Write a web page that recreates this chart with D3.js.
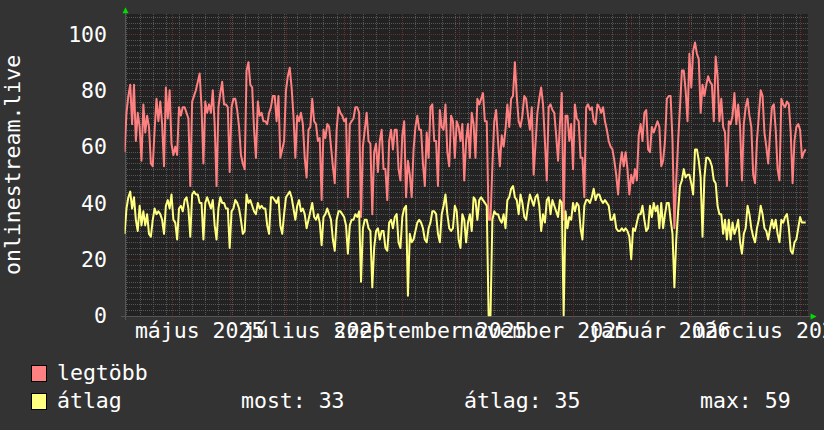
<!DOCTYPE html>
<html><head><meta charset="utf-8">
<script src="https://cdn.jsdelivr.net/npm/d3@7"></script>
<style>html,body{margin:0;padding:0;background:#333333;} svg{display:block}</style>
</head><body>
<svg id="c" width="824" height="430"></svg>
<script>
// ---------------- DATA ----------------
const titleText = "onlinestream.live";
const startDate = "2025-04-06";   // first daily sample
const endDate = "2026-04-05";     // right edge of the time axis
const seriesNames = ["legtöbb", "átlag"];
const seriesColors = ["#ff8080", "#ffff80"];
// daily "legtöbb" (max) values
const maxValues = [
 58,72,78,82,68,82,62,72,67,55, 75,65,71,67,54,53,66,77,69,76,
 68,53,81,70,80,61,57,60,57,74, 71,74,74,72,70,46,76,78,80,83,
 86,74,54,76,72,75,72,80,68,46, 74,79,83,75,75,74,51,74,77,77,
 73,67,57,54,52,87,90,82,81,66, 56,76,71,72,69,69,68,72,74,78,
 78,69,78,56,59,62,80,85,88,81, 71,56,71,69,72,68,56,49,66,67,
 77,69,68,62,63,41,66,63,68,67, 60,53,47,66,74,72,71,69,70,42,
 68,69,70,74,74,72,
 35,60,66,72,62,61,36,58,61,51, 62,66,52,52,41,62,66,59,66,66,
 52,48,64,69,42,55,50,42,59,67, 71,66,66,54,46,65,56,74,75,62,
 62,46,73,67,66,75,58,53,71,69, 56,69,67,62,68,48,62,68,56,72,
 68,56,77,75,77,79,69,69,34,34, 53,69,73,62,53,64,60,66,75,67,
 77,78,90,78,69,67,71,78,77,71, 66,74,50,61,72,77,81,75,62,48,
 74,75,73,72,64,55,68,79,34,71, 71,62,68,52,75,70,69,56,56,42,
 74,75,73,74,69,68,75,74,
 72,74,69,66,62,60,59,55,50,43, 53,58,53,58,52,43,50,47,52,48,
 64,68,62,72,73,59,58,67,65,67, 69,67,53,55,62,77,78,78,62,31,
 48,62,74,87,87,80,69,93,81,94, 97,93,91,72,82,78,82,85,83,82,
 69,92,85,69,77,67,65,46,69,68, 71,79,68,75,67,48,68,74,77,71,
 67,50,47,62,71,80,78,65,60,54, 65,74,75,66,52,48,77,75,74,76,
 75,65,47,62,67,68,66,56,58,59
];
// daily "átlag" (average) values
const avgValues = [
 29,38,42,44,38,42,34,30,39,32, 37,32,36,29,28,34,38,36,37,36,
 34,29,39,41,38,43,34,33,27,38, 39,37,41,42,38,28,43,44,43,43,
 40,40,27,40,42,40,38,41,32,27, 38,42,40,40,38,38,24,37,38,41,
 40,38,34,29,30,43,40,41,39,37, 36,40,38,39,38,38,32,29,42,42,
 41,40,42,32,29,36,42,43,44,42, 38,34,39,41,37,38,36,31,34,37,
 40,35,34,36,33,25,35,36,38,36, 34,27,23,34,37,37,36,35,32,22,
 32,34,34,36,35,37,
 12,31,34,34,31,30,10,24,30,31, 27,30,30,24,23,33,34,31,35,36,
 26,24,35,38,39,7,29,26,27,30, 33,34,33,31,27,26,31,33,37,37,
 36,29,26,36,39,43,36,31,30,31, 39,37,27,24,36,34,26,33,36,30,
 42,41,34,41,42,41,40,39,0,0, 34,37,36,36,34,33,36,31,41,42,
 45,46,42,41,36,43,40,35,34,39, 43,41,39,42,43,39,30,36,33,41,
 42,36,41,39,37,35,41,40,0,37, 31,35,34,40,37,40,39,31,27,39,
 41,41,40,42,45,41,43,43,
 41,40,41,40,39,34,34,36,31,30, 30,31,30,31,30,28,20,31,30,33,
 36,36,39,34,30,31,39,35,40,37, 39,31,40,31,36,40,40,34,29,10,
 27,37,46,48,52,49,50,50,47,43, 59,59,55,49,28,49,56,56,55,53,
 48,47,39,36,36,29,34,27,34,27, 33,29,31,34,26,22,29,31,39,36,
 31,28,26,31,34,39,36,31,30,27, 31,34,31,34,29,26,34,33,35,36,
 31,23,22,26,27,31,35,33,33,33
];
const yTicks = [0, 20, 40, 60, 80, 100];
const yMax = 107;
const xLabelMonths = ["2025-05-01","2025-07-01","2025-09-01","2025-11-01","2026-01-01","2026-03-01"];
const xTickLabels = ["május 2025","július 2025","szeptember 2025","november 2025","január 2026","március 2026"];
const legendStats = [["most", 33], ["átlag", 35], ["max", 59]];

// ---------------- LAYOUT ----------------
const W = 824, H = 430;
const L = 124.6, R = 807.6, T = 14.3, B = 315.5;
const FONT = "'DejaVu Sans Mono', monospace";
const FS = 21.5;
const svg = d3.select("#c");
svg.append("rect").attr("width", W).attr("height", H).attr("fill", "#333333");

const parse = d3.utcParse("%Y-%m-%d");
const t0 = parse(startDate), t1 = parse(endDate);
const x = d3.scaleUtc().domain([t0, t1]).range([L, R]);
const y = d3.scaleLinear().domain([0, yMax]).range([B, T]);
const px = v => Math.round(v) + 0.5;

svg.append("rect").attr("x", Math.round(L)).attr("y", Math.round(T))
  .attr("width", Math.round(R) - Math.round(L)).attr("height", Math.round(B) - Math.round(T))
  .attr("fill", "#222222");

const grid = svg.append("g").attr("shape-rendering", "crispEdges");
const minorCol = "#555555", majorCol = "#663030";
// minor horizontal
d3.range(2, yMax, 2).filter(v => v % 20 !== 0).forEach(v => {
  grid.append("line").attr("x1", L).attr("x2", R).attr("y1", px(y(v))).attr("y2", px(y(v)))
    .attr("stroke", minorCol).attr("stroke-width", 1).attr("stroke-dasharray", "1,1");
});
// minor vertical (weekly)
d3.utcMonday.range(t0, t1).forEach(d => {
  grid.append("line").attr("x1", px(x(d))).attr("x2", px(x(d))).attr("y1", T).attr("y2", B)
    .attr("stroke", minorCol).attr("stroke-width", 1).attr("stroke-dasharray", "1,1");
});
// major horizontal
yTicks.filter(v => v > 0).forEach(v => {
  grid.append("line").attr("x1", L - 2).attr("x2", R).attr("y1", px(y(v))).attr("y2", px(y(v)))
    .attr("stroke", majorCol).attr("stroke-width", 1).attr("stroke-dasharray", "1,1");
});
// major vertical (monthly)
d3.utcMonth.range(d3.utcMonth.ceil(t0), t1).forEach(d => {
  grid.append("line").attr("x1", px(x(d))).attr("x2", px(x(d))).attr("y1", T).attr("y2", B + 3)
    .attr("stroke", majorCol).attr("stroke-width", 1).attr("stroke-dasharray", "1,1");
});

// axes lines
grid.append("line").attr("x1", L - 4).attr("x2", R + 4).attr("y1", px(B)).attr("y2", px(B))
  .attr("stroke", "#555555");
grid.append("line").attr("x1", px(L)).attr("x2", px(L)).attr("y1", B + 4).attr("y2", T - 4)
  .attr("stroke", "#555555");
// arrows
const ax = px(L), ay = px(B);
svg.append("path").attr("d", `M${ax - 3},${T - 1}L${ax + 3},${T - 1}L${ax},${T - 7}Z`).attr("fill", "#00dd00");
svg.append("path").attr("d", `M${R + 3},${ay - 3}L${R + 3},${ay + 3}L${R + 9},${ay}Z`).attr("fill", "#00dd00");

// series
const clip = svg.append("clipPath").attr("id", "pc").append("rect")
  .attr("x", L).attr("y", T - 1).attr("width", R - L).attr("height", B - T + 2);
const line = d3.line().x(d => x(d.t)).y(d => y(d.v)).curve(d3.curveLinear);
const mk = arr => arr.map((v, i) => ({ t: d3.utcDay.offset(t0, i), v }));
[maxValues, avgValues].forEach((arr, k) => {
  svg.append("path").attr("clip-path", "url(#pc)").datum(mk(arr)).attr("d", line)
    .attr("fill", "none").attr("stroke", seriesColors[k]).attr("stroke-width", 2)
    .attr("stroke-linejoin", "round");
});

// y labels
const txt = svg.append("g").attr("font-family", FONT).attr("font-size", FS).attr("fill", "#ffffff");
yTicks.forEach(v => {
  txt.append("text").attr("x", 107).attr("y", y(v)).attr("dy", "0.36em")
    .attr("text-anchor", "end").text(v);
});
// x labels (centered half a month after the month start)
xLabelMonths.forEach((m, i) => {
  const d = d3.utcDay.offset(parse(m), 15);
  txt.append("text").attr("x", x(d)).attr("y", 338).attr("text-anchor", "middle").text(xTickLabels[i]);
});
// vertical title
txt.append("text").attr("transform", `translate(20,${(T + B) / 2}) rotate(-90)`)
  .attr("text-anchor", "middle").text(titleText);

// legend
const lg = svg.append("g").attr("font-family", FONT).attr("font-size", FS).attr("fill", "#ffffff");
const rows = [380, 408];
seriesNames.forEach((n, k) => {
  lg.append("rect").attr("x", 31.5).attr("y", rows[k] - 14.5).attr("width", 15).attr("height", 16)
    .attr("fill", seriesColors[k]).attr("stroke", "#000000").attr("stroke-width", 1);
  lg.append("text").attr("x", 57).attr("y", rows[k]).text(n);
});
const statX = [241, 464, 700];
legendStats.forEach((s, i) => {
  lg.append("text").attr("x", statX[i]).attr("y", rows[1]).text(`${s[0]}: ${s[1]}`);
});
</script>
</body></html>
